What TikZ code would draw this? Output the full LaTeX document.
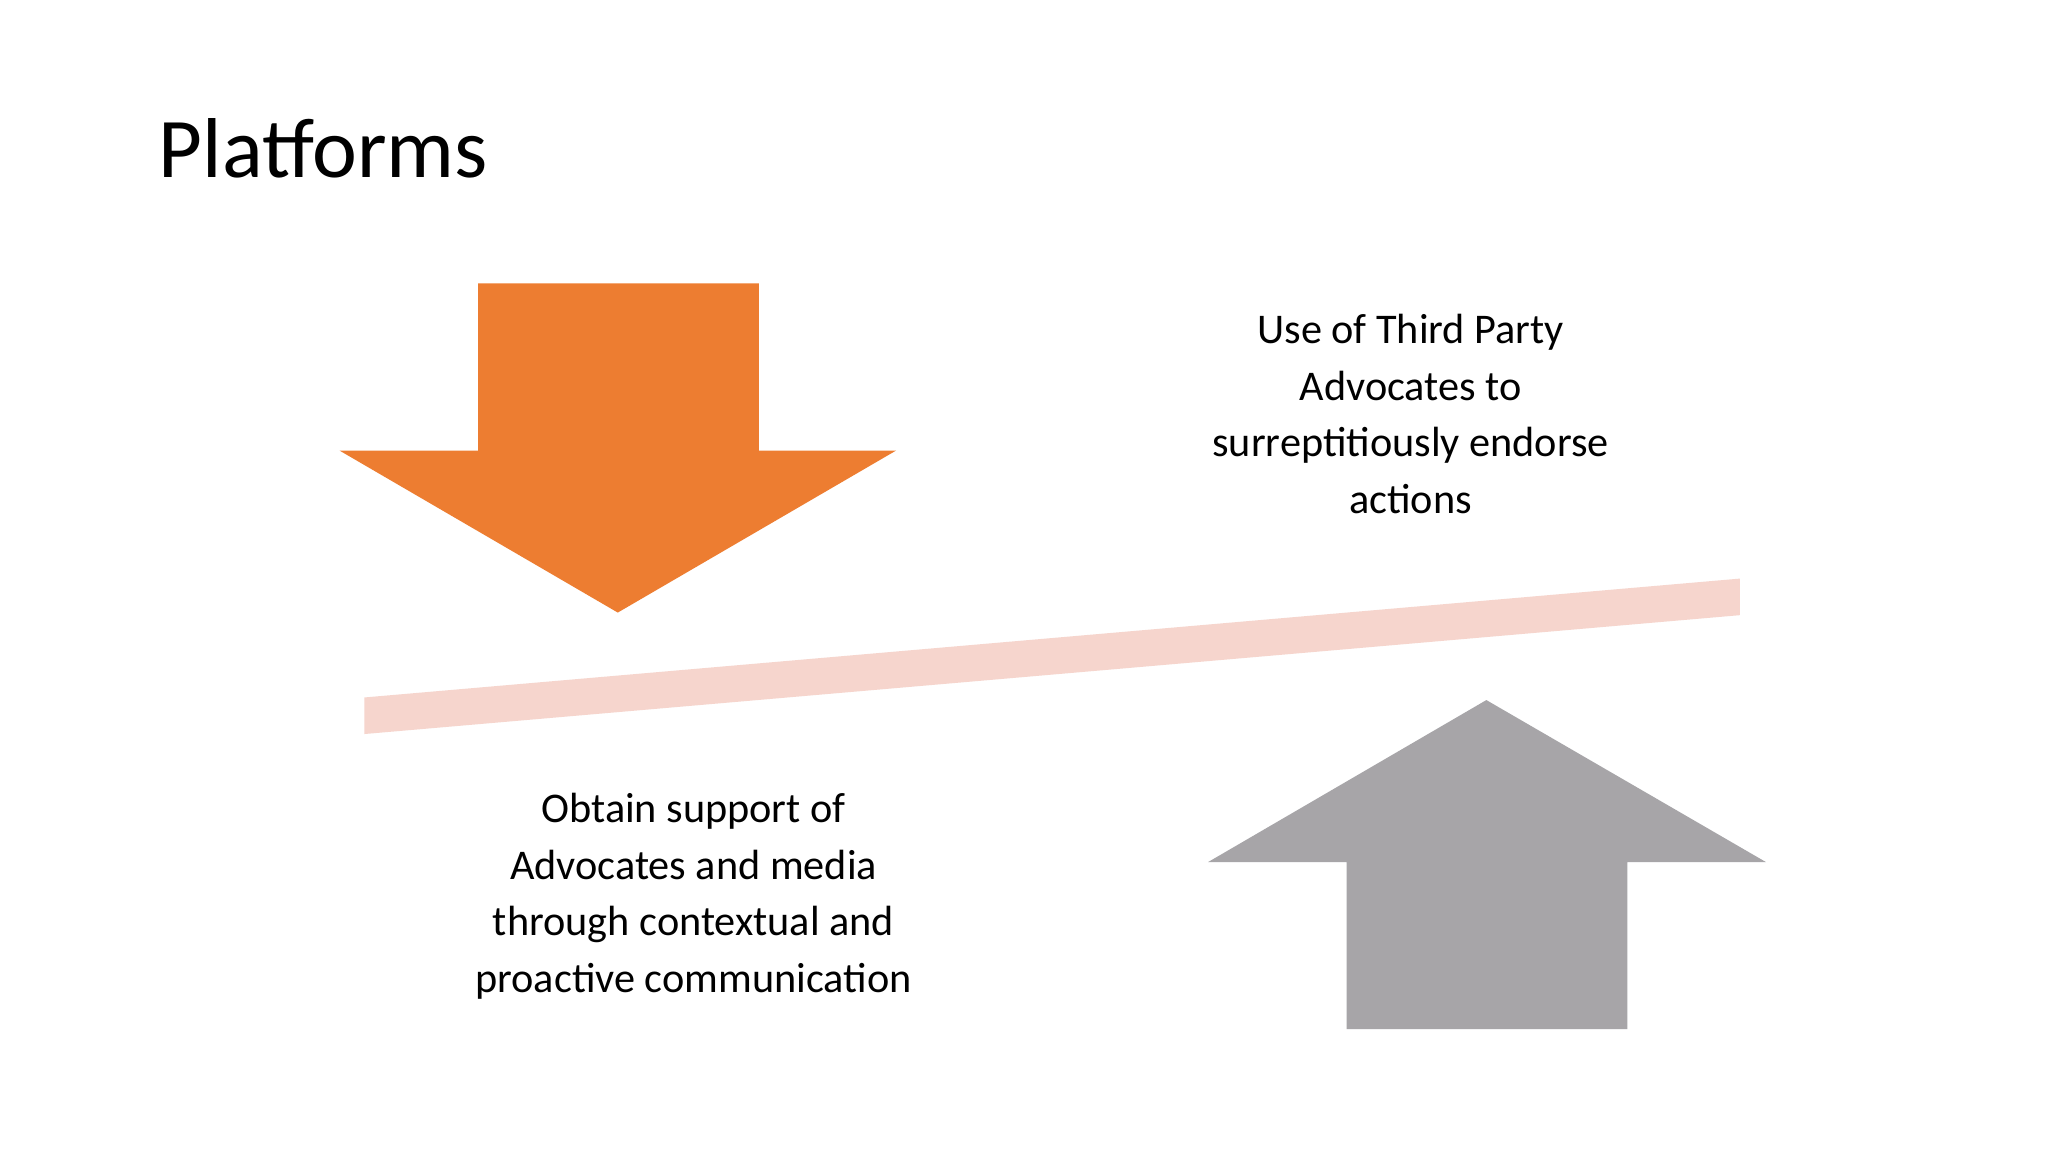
\documentclass[tikz,border=0pt]{standalone}
\usepackage{fontspec}
\setmainfont{Carlito}
\definecolor{orangeA}{HTML}{ED7D31}
\definecolor{grayA}{HTML}{A7A5A8}
\definecolor{pinkA}{HTML}{F6D5CD}
\begin{document}
\begin{tikzpicture}[x=0.01cm,y=-0.01cm,
  txt/.style={align=center,font=\fontsize{9.2pt}{12.3pt}\selectfont,inner sep=0pt}]
\useasboundingbox[fill=white] (0,0) rectangle (1568,882);
\node[anchor=base west,inner sep=0pt,font=\fontsize{18.5pt}{22pt}\selectfont] (title) at (121,136) {Platforms};
\fill[orangeA] (366,217) -- (581,217) -- (581,345) -- (686,345) -- (473,469) -- (260,345) -- (366,345) -- cycle;
\fill[grayA] (1031,788) -- (1246,788) -- (1246,660) -- (1352,660) -- (1138,536) -- (925,660) -- (1031,660) -- cycle;
\fill[pinkA] (279,534) -- (1332,443) -- (1332,471) -- (279,562) -- cycle;
\node[txt] (right) at (1080,317) {Use of Third Party\\Advocates to\\surreptitiously endorse\\actions};
\node[txt] (left) at (531,686) {Obtain support of\\Advocates and media\\through contextual and\\proactive communication};
\end{tikzpicture}
\end{document}
